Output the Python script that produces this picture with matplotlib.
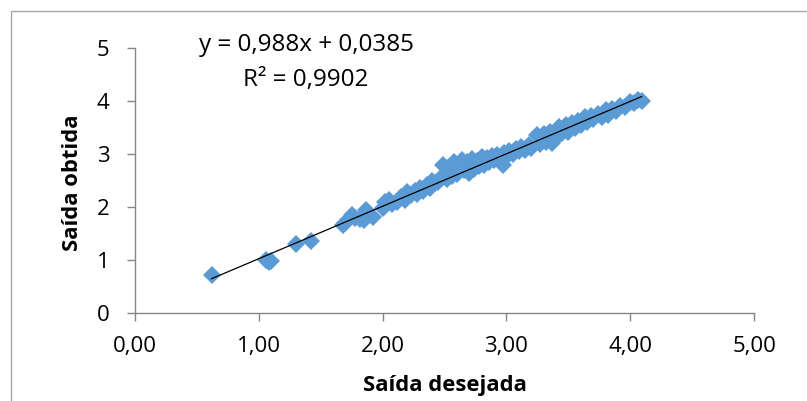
import matplotlib
matplotlib.use("Agg")
import matplotlib.pyplot as plt
from matplotlib.patches import Rectangle
import numpy as np

plt.rcParams['font.family'] = ['Open Sans', 'DejaVu Sans']

# Data
saida_desejada = [0.62, 1.06, 1.08, 1.10, 1.30, 1.42,
    1.68, 1.70, 1.75, 1.78, 1.82, 1.85, 1.87, 1.89, 1.92,
    2.00, 2.02, 2.05, 2.08, 2.12, 2.15, 2.18, 2.20, 2.23, 2.26, 2.28, 2.30, 2.33, 2.36, 2.38,
    2.40, 2.42, 2.45, 2.47, 2.49, 2.50, 2.52, 2.54, 2.56, 2.58, 2.60, 2.62, 2.64, 2.66, 2.68,
    2.70, 2.72, 2.74, 2.76, 2.78, 2.80, 2.82, 2.84, 2.86, 2.88, 2.90, 2.92, 2.95, 2.97, 2.98,
    3.00, 3.02, 3.05, 3.08, 3.10, 3.12, 3.15, 3.18, 3.20, 3.25, 3.27, 3.30, 3.32, 3.35, 3.37,
    3.40, 3.42, 3.45, 3.48, 3.50, 3.53, 3.55, 3.58, 3.60, 3.63, 3.65, 3.68, 3.70, 3.74, 3.77,
    3.80, 3.82, 3.85, 3.88, 3.92, 3.96, 4.00, 4.03, 4.06, 4.09]
saida_obtida = [0.72, 1.00, 0.97, 0.98, 1.31, 1.37,
    1.66, 1.70, 1.85, 1.80, 1.78, 1.76, 1.95, 1.86, 1.82,
    1.99, 2.10, 2.13, 2.05, 2.10, 2.18, 2.14, 2.28, 2.22, 2.30, 2.25, 2.35, 2.30, 2.42, 2.36,
    2.50, 2.45, 2.48, 2.55, 2.80, 2.60, 2.52, 2.76, 2.58, 2.85, 2.62, 2.80, 2.88, 2.70, 2.85,
    2.65, 2.90, 2.72, 2.86, 2.78, 2.95, 2.80, 2.92, 2.85, 2.96, 2.88, 2.98, 2.92, 2.80, 3.02,
    2.95, 3.05, 3.00, 3.10, 3.05, 3.14, 3.08, 3.16, 3.12, 3.35, 3.18, 3.38, 3.22, 3.42, 3.20,
    3.30, 3.50, 3.40, 3.55, 3.42, 3.58, 3.48, 3.62, 3.55, 3.70, 3.60, 3.72, 3.65, 3.75, 3.70,
    3.82, 3.74, 3.85, 3.80, 3.90, 3.88, 3.98, 3.95, 4.02, 4.00]
slope = 0.988
intercept = 0.0385
x_ticks = [0, 1, 2, 3, 4, 5]
x_tick_labels = ["0,00", "1,00", "2,00", "3,00", "4,00", "5,00"]
y_ticks = [0, 1, 2, 3, 4, 5]
y_tick_labels = ["0", "1", "2", "3", "4", "5"]

W, H = 807, 401
fig = plt.figure(figsize=(W / 100, H / 100), dpi=100)
fig.patch.set_facecolor("white")

# Chart frame (extends off right/bottom edge like the reference)
fig.patches.append(Rectangle((11 / W, -0.2), 1.2, (H - 11) / H + 0.2,
                             transform=fig.transFigure, fill=False,
                             edgecolor="#a6a6a6", linewidth=1.0))

ax = fig.add_axes([134.7 / W, (H - 313.3) / H, (754.3 - 134.7) / W, (313.3 - 47.7) / H])
ax.set_facecolor("none")

ax.plot(saida_desejada, saida_obtida, linestyle="none", marker="D", markersize=9,
        color="#5b9bd5", markeredgewidth=0, zorder=2)
xs = np.array([min(saida_desejada), max(saida_desejada)])
ax.plot(xs, slope * xs + intercept, color="black", linewidth=0.9, zorder=3)

ax.set_xlim(0, 5)
ax.set_ylim(0, 5)
ax.set_xticks(x_ticks)
ax.set_xticklabels(x_tick_labels)
ax.set_yticks(y_ticks)
ax.set_yticklabels(y_tick_labels)

for s in ["top", "right"]:
    ax.spines[s].set_visible(False)
for s in ["left", "bottom"]:
    ax.spines[s].set_color("#868686")
    ax.spines[s].set_linewidth(1.0)
ax.tick_params(axis="x", direction="out", length=6, width=1, color="#868686",
               labelsize=16, pad=10, labelcolor="black")
ax.tick_params(axis="y", direction="out", length=6, width=1, color="#868686",
               labelsize=16, pad=12, labelcolor="black")

fig.text(306 / W, 1 - 45 / H, "y = 0,988x + 0,0385", ha="center", va="center", fontsize=17.5)
fig.text(306 / W, 1 - 80 / H, "R² = 0,9902", ha="center", va="center", fontsize=17.5)

fig.text(444.5 / W, 1 - 385 / H, "Saída desejada", ha="center", va="center",
         fontsize=15.8, fontweight="bold")
fig.text(72 / W, 1 - 183 / H, "Saída obtida", ha="center", va="center",
         fontsize=15.8, fontweight="bold", rotation=90)

fig.savefig("out.png", dpi=100, facecolor="white")
